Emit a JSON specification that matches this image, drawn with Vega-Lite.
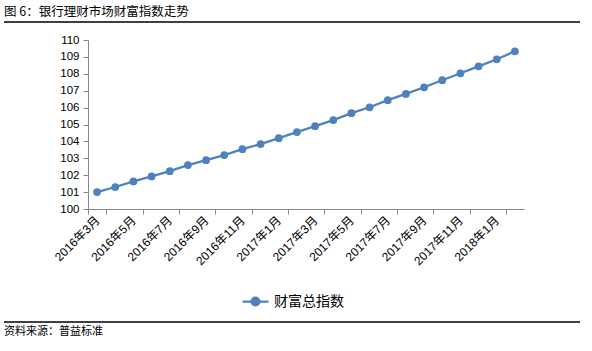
{
  "$schema": "https://vega.github.io/schema/vega-lite/v6.json",
  "padding": {"left": 3, "top": 0, "right": 0, "bottom": 0},
  "background": "white",
  "datasets": {
    "wealth": [
      {"month": "2016年3月", "series": "财富总指数", "value": 101.00},
      {"month": "2016年4月", "series": "财富总指数", "value": 101.30},
      {"month": "2016年5月", "series": "财富总指数", "value": 101.63},
      {"month": "2016年6月", "series": "财富总指数", "value": 101.93},
      {"month": "2016年7月", "series": "财富总指数", "value": 102.24},
      {"month": "2016年8月", "series": "财富总指数", "value": 102.60},
      {"month": "2016年9月", "series": "财富总指数", "value": 102.89},
      {"month": "2016年10月", "series": "财富总指数", "value": 103.19},
      {"month": "2016年11月", "series": "财富总指数", "value": 103.54},
      {"month": "2016年12月", "series": "财富总指数", "value": 103.84},
      {"month": "2017年1月", "series": "财富总指数", "value": 104.19},
      {"month": "2017年2月", "series": "财富总指数", "value": 104.55},
      {"month": "2017年3月", "series": "财富总指数", "value": 104.90},
      {"month": "2017年4月", "series": "财富总指数", "value": 105.26},
      {"month": "2017年5月", "series": "财富总指数", "value": 105.67},
      {"month": "2017年6月", "series": "财富总指数", "value": 106.02},
      {"month": "2017年7月", "series": "财富总指数", "value": 106.44},
      {"month": "2017年8月", "series": "财富总指数", "value": 106.81},
      {"month": "2017年9月", "series": "财富总指数", "value": 107.20},
      {"month": "2017年10月", "series": "财富总指数", "value": 107.62},
      {"month": "2017年11月", "series": "财富总指数", "value": 108.03},
      {"month": "2017年12月", "series": "财富总指数", "value": 108.44},
      {"month": "2018年1月", "series": "财富总指数", "value": 108.86},
      {"month": "2018年2月", "series": "财富总指数", "value": 109.33}
    ],
    "header": [{"t": "图 6：银行理财市场财富指数走势"}],
    "footer": [{"t": "资料来源：普益标准"}]
  },
  "spacing": 11,
  "resolve": {"scale": {"color": "independent"}, "legend": {"color": "independent"}},
  "vconcat": [
    {
      "width": 576,
      "height": 22,
      "data": {"name": "header"},
      "layer": [
        {
          "mark": {"type": "text", "align": "left", "baseline": "middle", "fontSize": 12.5, "font": "Noto Sans CJK SC", "color": "#000000"},
          "encoding": {
            "x": {"datum": 0, "type": "quantitative", "scale": {"domain": [0, 1]}, "axis": null},
            "y": {"datum": 0.45, "type": "quantitative", "scale": {"domain": [0, 1]}, "axis": null},
            "text": {"field": "t"}
          }
        },
        {
          "mark": {"type": "rule", "color": "#000000", "strokeWidth": 1.5},
          "encoding": {
            "x": {"datum": 0, "type": "quantitative", "scale": {"domain": [0, 1]}, "axis": null},
            "x2": {"datum": 1},
            "y": {"datum": 0, "type": "quantitative", "scale": {"domain": [0, 1]}, "axis": null}
          }
        }
      ]
    },
    {
      "spacing": 0,
      "resolve": {"scale": {"color": "independent"}, "legend": {"color": "independent"}},
      "hconcat": [
        {
          "width": 48,
          "height": 1,
          "data": {"values": []},
          "mark": "text",
          "encoding": {}
        },
        {
          "width": 436,
          "height": 169,
          "data": {"name": "wealth"},
          "encoding": {
            "x": {
              "field": "month",
              "type": "ordinal",
              "sort": null,
              "scale": {"type": "band", "paddingInner": 0, "paddingOuter": 0},
              "axis": {
                "title": null,
                "values": ["2016年3月", "2016年5月", "2016年7月", "2016年9月", "2016年11月", "2017年1月", "2017年3月", "2017年5月", "2017年7月", "2017年9月", "2017年11月", "2018年1月"],
                "tickBand": "extent",
                "labelAngle": -45,
                "labelAlign": "right",
                "labelBaseline": "middle",
                "labelFontSize": 12,
                "labelFont": "Liberation Sans, Noto Sans CJK SC",
                "labelColor": "#000000",
                "labelPadding": 4,
                "tickSize": 5,
                "tickColor": "#868686",
                "domainColor": "#868686",
                "grid": false,
                "labelOverlap": false
              }
            },
            "y": {
              "field": "value",
              "type": "quantitative",
              "scale": {"domain": [100, 110], "nice": false, "zero": false},
              "axis": {
                "title": null,
                "values": [100, 101, 102, 103, 104, 105, 106, 107, 108, 109, 110],
                "grid": false,
                "tickSize": 5,
                "tickColor": "#868686",
                "domainColor": "#868686",
                "labelFontSize": 11.5,
                "labelFont": "Liberation Sans",
                "labelColor": "#000000",
                "labelPadding": 4,
                "labelOverlap": false
              }
            },
            "color": {
              "field": "series",
              "type": "nominal",
              "scale": {"range": ["#4F81BD"]},
              "legend": {
                "title": null,
                "orient": "none",
                "legendX": 153,
                "legendY": 247,
                "labelFontSize": 14,
                "labelFont": "Noto Sans CJK SC",
                "labelColor": "#000000",
                "labelOffset": 4,
                "symbolType": "M-1,0L1,0M-0.3,0A0.3,0.3,0,1,1,0.3,0A0.3,0.3,0,1,1,-0.3,0Z",
                "symbolSize": 676,
                "symbolStrokeWidth": 2.25,
                "symbolFillColor": "#4F81BD",
                "symbolStrokeColor": "#4F81BD"
              }
            }
          },
          "layer": [
            {"mark": {"type": "line", "strokeWidth": 2.25}},
            {"mark": {"type": "point", "filled": true, "size": 60, "opacity": 1}}
          ]
        }
      ]
    },
    {
      "width": 576,
      "height": 20,
      "data": {"name": "footer"},
      "layer": [
        {
          "mark": {"type": "rule", "color": "#000000", "strokeWidth": 1.5},
          "encoding": {
            "x": {"datum": 0, "type": "quantitative", "scale": {"domain": [0, 1]}, "axis": null},
            "x2": {"datum": 1},
            "y": {"datum": 1, "type": "quantitative", "scale": {"domain": [0, 1]}, "axis": null}
          }
        },
        {
          "mark": {"type": "text", "align": "left", "baseline": "middle", "fontSize": 11, "font": "Noto Sans CJK SC", "color": "#000000"},
          "encoding": {
            "x": {"datum": 0, "type": "quantitative", "scale": {"domain": [0, 1]}, "axis": null},
            "y": {"datum": 0.5, "type": "quantitative", "scale": {"domain": [0, 1]}, "axis": null},
            "text": {"field": "t"}
          }
        }
      ]
    }
  ],
  "config": {
    "view": {"stroke": null}
  }
}
